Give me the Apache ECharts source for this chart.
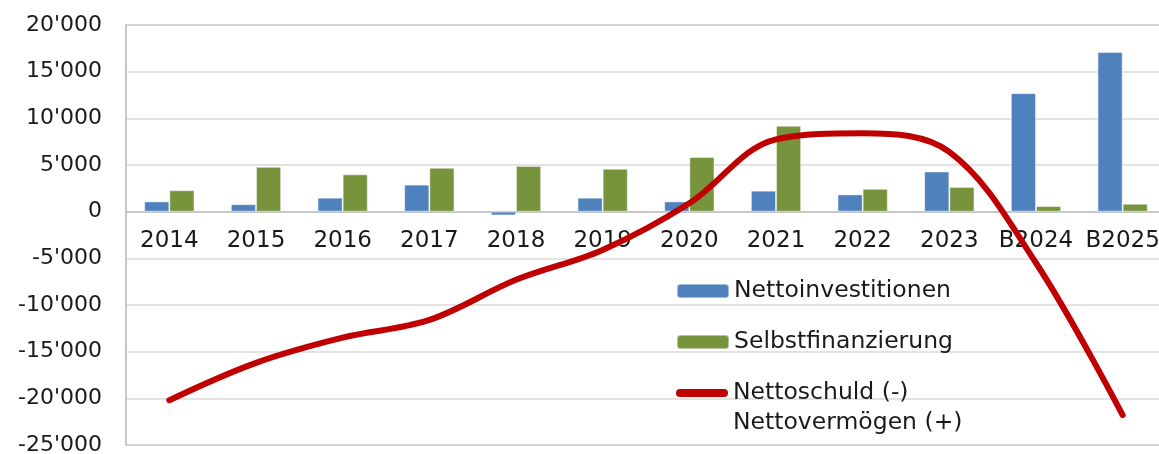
<!DOCTYPE html>
<html>
<head>
<meta charset="utf-8">
<script src="https://cdn.jsdelivr.net/npm/echarts@6/dist/echarts.min.js"></script>
<style>
  html, body { margin: 0; padding: 0; background: #fff; }
  #chart { width: 1159px; height: 454px; }
</style>
</head>
<body>
<div id="chart"></div>
<script>
// Jahre / Budget
const years = ["2014", "2015", "2016", "2017", "2018", "2019", "2020", "2021", "2022", "2023", "B2024", "B2025"];
const nettoinvestitionen = [1100, 800, 1500, 2900, -400, 1500, 1100, 2250, 1850, 4300, 12700, 17100];
const selbstfinanzierung = [2300, 4800, 4000, 4700, 4900, 4600, 5850, 9200, 2450, 2650, 600, 850];
const nettoschuld = [-20200, -16200, -13500, -11600, -7300, -4100, 900, 7750, 8400, 6400, -5500, -21800];

const fontFam = "DejaVu Sans";
const fmt = (v) => {
  let s = String(Math.abs(v)).replace(/\B(?=(\d{3})+(?!\d))/g, "'");
  return (v < 0 ? "-" : "") + s;
};

// Plotbereich
const gTop = 25, gHeight = 420, yMin = -25000, yMax = 20000;
const zeroOffset = gHeight * (0 - yMin) / (yMax - yMin);

const legendText = { fontSize: 23.5, color: "#1a1a1a", lineHeight: 30, fontFamily: fontFam };

const chart = echarts.init(document.getElementById("chart"));
chart.setOption({
  animation: false,
  textStyle: { fontFamily: fontFam },
  grid: {
    left: 126, top: gTop, width: 1040, height: gHeight,
    outerBoundsMode: "none", containLabel: false,
    show: true, borderColor: "#cfcfcf", borderWidth: 2, backgroundColor: "transparent"
  },
  legend: [
    {
      orient: "vertical",
      left: 676,
      top: 276,
      height: 200,
      padding: 0,
      itemWidth: 52,
      itemHeight: 14,
      itemGap: 21,
      textStyle: legendText,
      data: ["Nettoinvestitionen", "Selbstfinanzierung"]
    },
    {
      // Linie: Symbol auf Höhe der ersten Textzeile
      orient: "vertical",
      left: 676,
      top: 348,
      height: 120,
      padding: 0,
      itemWidth: 52,
      itemHeight: 14,
      textStyle: legendText,
      formatter: (name) => "\n" + name,
      data: [{
        name: "Nettoschuld (-)\nNettovermögen (+)",
        icon: "path://M4,0 L48,0 A4,4 0 0 1 48,8 L4,8 A4,4 0 0 1 4,0 Z"
      }]
    }
  ],
  xAxis: {
    type: "category",
    data: years,
    offset: -zeroOffset,
    axisLine: { onZero: false, lineStyle: { color: "#bfbfbf", width: 1.5 } },
    axisTick: { length: 6, lineStyle: { color: "#bfbfbf" } },
    axisLabel: { fontSize: 23, color: "#1a1a1a", margin: 18, interval: 0, fontFamily: fontFam },
    splitLine: { show: false }
  },
  yAxis: {
    type: "value",
    min: yMin,
    max: yMax,
    interval: 5000,
    axisLine: { show: true, lineStyle: { color: "#c8c8c8", width: 2 } },
    axisTick: { show: false },
    axisLabel: { fontSize: 22, color: "#1a1a1a", margin: 24, formatter: fmt, fontFamily: fontFam },
    splitLine: { lineStyle: { color: "#d9d9d9", width: 1.5 } }
  },
  series: [
    {
      name: "Nettoinvestitionen",
      type: "bar",
      data: nettoinvestitionen,
      barGap: "0%",
      barCategoryGap: "42%",
      itemStyle: { color: "#4f81bd", borderColor: "rgba(255,255,255,0.45)", borderWidth: 1 }
    },
    {
      name: "Selbstfinanzierung",
      type: "bar",
      data: selbstfinanzierung,
      itemStyle: { color: "#77933c", borderColor: "rgba(255,255,255,0.45)", borderWidth: 1 }
    },
    {
      name: "Nettoschuld (-)\nNettovermögen (+)",
      type: "line",
      data: nettoschuld,
      smooth: 0.35,
      symbol: "none",
      lineStyle: { color: "#c00000", width: 6, cap: "round" },
      itemStyle: { color: "#c00000" }
    }
  ]
});
</script>
</body>
</html>
